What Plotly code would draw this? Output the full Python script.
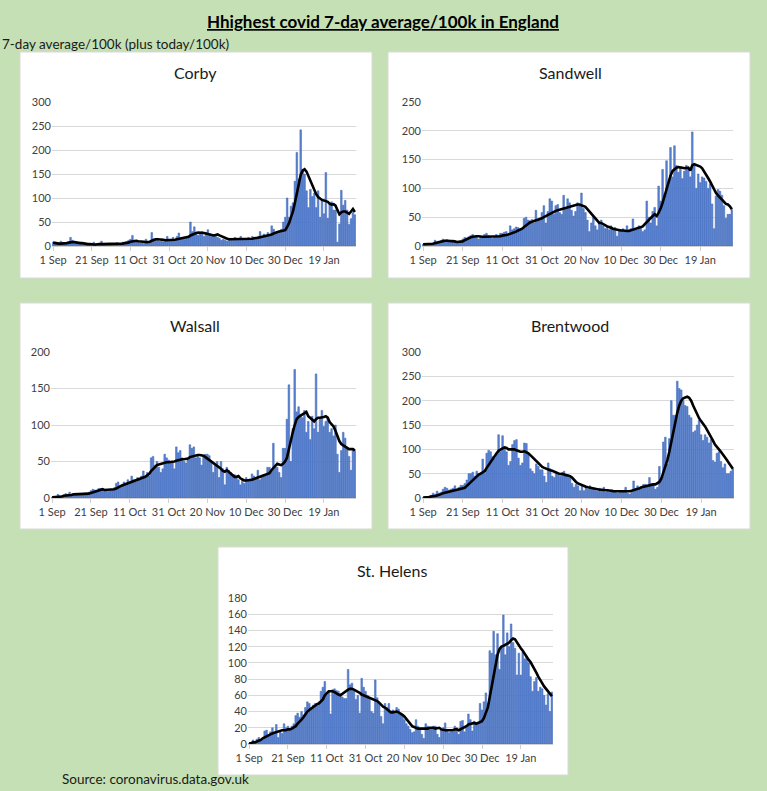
import plotly.graph_objects as go
import pandas as pd

W, H = 767, 791

# ---- data (per 100k, 1 Sep 2020 .. 4 Feb 2021) ----
dates = pd.date_range("2020-09-01", periods=157, freq="D")
tick_labels = ["1 Sep", "21 Sep", "11 Oct", "31 Oct", "20 Nov", "10 Dec", "30 Dec", "19 Jan"]
areas = ["Corby", "Sandwell", "Walsall", "Brentwood", "St. Helens"]

corby_daily = [8, 5, 4, 6, 10, 7, 4, 6, 8, 18, 12, 7, 6, 5, 8, 4, 3, 5, 2, 3,
               3, 8, 4, 2, 6, 10, 5, 3, 4, 6, 5, 3, 4, 7, 5, 4, 8, 6, 9, 12,
               14, 22, 12, 10, 8, 6, 9, 5, 14, 7, 10, 28, 15, 13, 16, 10, 12, 9, 14, 20,
               12, 14, 18, 10, 20, 27, 16, 18, 14, 18, 20, 50, 30, 40, 28, 22, 25, 30, 20, 28,
               34, 25, 20, 22, 24, 18, 16, 12, 14, 12, 10, 16, 14, 12, 18, 14, 12, 20, 14, 12,
               15, 18, 12, 20, 14, 18, 20, 30, 16, 25, 22, 28, 24, 42, 35, 28, 30, 32, 35,
               50, 60, 100, 60, 83, 90, 135, 195, 140, 242, 160, 150, 115, 80, 118, 103, 110, 80, 115, 60,
               95, 67, 153, 58, 90, 92, 75, 75, 8, 46, 116, 85, 95, 75, 45, 57, 70, 65]
corby_avg = [7, 6, 6, 5, 5, 5, 6, 6, 7, 8, 8, 8, 7, 7, 6, 6, 5, 5, 4, 4,
             3, 3, 3, 4, 4, 4, 4, 4, 5, 5, 5, 5, 5, 5, 5, 5, 5, 6, 6, 7,
             9, 10, 11, 11, 10, 10, 10, 9, 8, 8, 9, 11, 13, 14, 14, 14, 13, 13, 12, 12,
             12, 12, 13, 13, 14, 15, 16, 17, 17, 18, 19, 22, 24, 26, 27, 28, 28, 28, 27, 26,
             25, 24, 23, 22, 23, 24, 22, 20, 18, 16, 15, 14, 14, 14, 14, 14, 14, 15, 14, 14,
             14, 14, 15, 15, 16, 16, 17, 18, 19, 19, 20, 21, 22, 24, 26, 28, 29, 30, 31,
             32, 33, 40, 48, 60, 72, 90, 110, 130, 148, 157, 160, 155, 145, 135, 125, 115, 108, 102, 98,
             96, 95, 94, 92, 88, 86, 87, 84, 75, 66, 70, 72, 72, 70, 67, 72, 77, 71]

sandwell_daily = [3, 2, 4, 3, 2, 5, 10, 6, 8, 9, 12, 10, 11, 9, 8, 10, 7, 8, 6, 9,
                  12, 15, 14, 16, 18, 20, 17, 15, 12, 16, 14, 20, 22, 18, 15, 13, 16, 20, 18, 22,
                  22, 24, 25, 18, 35, 28, 30, 33, 32, 28, 30, 48, 50, 45, 44, 46, 40, 62, 45, 48,
                  58, 70, 40, 60, 82, 78, 55, 70, 72, 58, 55, 88, 65, 82, 75, 62, 52, 60, 75, 70,
                  92, 65, 58, 45, 25, 40, 50, 35, 28, 42, 45, 35, 30, 35, 28, 35, 30, 32, 17, 28,
                  26, 30, 25, 35, 28, 30, 47, 30, 28, 35, 32, 25, 28, 78, 50, 40, 60, 67, 35,
                  104, 78, 133, 90, 148, 110, 171, 120, 174, 140, 128, 135, 117, 130, 140, 135, 120, 198, 140, 100, 125,
                  110, 120, 118, 112, 100, 108, 73, 30, 87, 98, 95, 88, 70, 48, 55, 55, 63]
sandwell_avg = [3, 3, 3, 3, 3, 4, 5, 6, 7, 8, 9, 9, 9, 9, 8, 8, 8, 7, 7, 7,
                8, 10, 12, 14, 15, 16, 17, 17, 17, 16, 16, 16, 16, 16, 16, 16, 16, 16, 17, 17,
                18, 18, 19, 20, 21, 22, 24, 25, 27, 28, 30, 33, 36, 39, 41, 42, 43, 44, 45, 46,
                48, 50, 52, 54, 56, 58, 60, 61, 62, 63, 64, 65, 67, 68, 69, 70, 71, 72, 72, 72,
                71, 70, 68, 64, 60, 56, 52, 47, 43, 40, 40, 38, 35, 34, 33, 31, 30, 29, 28, 28,
                27, 27, 26, 26, 26, 27, 29, 30, 31, 31, 32, 34, 38, 42, 45, 48, 52, 55, 52,
                58, 65, 75, 88, 100, 112, 122, 130, 134, 136, 137, 137, 136, 135, 135, 136, 131, 140, 142, 141, 140,
                138, 135, 130, 124, 118, 112, 105, 98, 92, 88, 84, 80, 76, 73, 72, 69, 64]

walsall_daily = [1, 2, 1, 5, 3, 2, 4, 6, 5, 8, 5, 4, 6, 5, 4, 6, 5, 7, 6, 8,
                 10, 12, 11, 9, 13, 13, 11, 10, 12, 9, 12, 11, 14, 20, 22, 15, 18, 22, 20, 25,
                 22, 30, 25, 22, 28, 26, 30, 37, 28, 35, 30, 55, 57, 45, 50, 42, 35, 40, 60, 55,
                 52, 50, 48, 40, 70, 62, 65, 55, 50, 48, 52, 73, 68, 70, 55, 58, 55, 45, 58, 60,
                 60, 58, 50, 35, 45, 50, 28, 50, 40, 18, 42, 38, 35, 30, 32, 28, 25, 18, 25, 20,
                 28, 24, 26, 33, 30, 28, 38, 25, 30, 32, 30, 42, 42, 38, 75, 45, 42, 35, 28, 68,
                 68, 108, 155, 50, 95, 176, 118, 125, 115, 110, 120, 90, 105, 80, 112, 95, 170, 90, 108, 120,
                 98, 105, 110, 90, 95, 85, 100, 60, 35, 65, 90, 82, 70, 57, 38, 65, 65]
walsall_avg = [1, 1, 1, 2, 2, 2, 3, 3, 4, 4, 4, 5, 5, 5, 5, 5, 5, 5, 6, 6,
               7, 8, 9, 10, 11, 12, 12, 11, 11, 11, 11, 12, 12, 13, 15, 16, 17, 18, 19, 20,
               20, 21, 22, 23, 24, 25, 26, 28, 29, 31, 33, 37, 40, 43, 45, 46, 47, 48, 49, 49,
               49, 49, 49, 50, 51, 52, 53, 53, 53, 53, 54, 56, 57, 58, 59, 59, 59, 59, 58, 56,
               54, 52, 50, 48, 47, 45, 43, 40, 37, 36, 38, 36, 33, 31, 29, 29, 30, 27, 25, 24,
               24, 24, 24, 25, 26, 27, 28, 29, 30, 31, 32, 33, 34, 38, 41, 44, 47, 46, 45, 47,
               50, 55, 68, 78, 90, 100, 108, 111, 113, 115, 117, 118, 112, 110, 108, 105, 108, 110, 110, 110,
               111, 112, 110, 104, 101, 98, 92, 84, 78, 74, 72, 70, 68, 67, 67, 67, 65]

brentwood_daily = [1, 2, 1, 3, 5, 10, 8, 14, 10, 12, 18, 22, 20, 16, 18, 20, 25, 18, 22, 26,
                   26, 30, 37, 50, 50, 53, 45, 55, 50, 52, 80, 50, 92, 98, 95, 85, 82, 90, 130, 95,
                   128, 105, 95, 67, 75, 110, 118, 120, 82, 67, 72, 113, 112, 90, 60, 55, 50, 70, 65, 58,
                   58, 45, 32, 72, 60, 45, 42, 50, 48, 44, 50, 55, 48, 45, 42, 30, 22, 28, 25, 15,
                   25, 15, 22, 18, 25, 20, 18, 15, 14, 20, 16, 22, 12, 14, 12, 17, 14, 12, 10, 14,
                   12, 14, 22, 10, 8, 12, 35, 20, 25, 18, 22, 28, 28, 24, 42, 30, 28, 18, 22, 65,
                   40, 115, 125, 70, 122, 200, 170, 170, 240, 225, 222, 200, 190, 188, 170, 165, 135, 138, 150, 160,
                   130, 118, 130, 125, 113, 120, 77, 74, 92, 95, 75, 62, 70, 50, 50, 55, 60]
brentwood_avg = [1, 1, 2, 2, 3, 3, 4, 5, 6, 8, 10, 11, 12, 13, 14, 15, 16, 17, 17, 18,
                 19, 21, 25, 29, 33, 38, 42, 45, 48, 50, 52, 55, 62, 68, 75, 82, 88, 92, 97, 100,
                 102, 104, 103, 100, 100, 100, 100, 98, 96, 95, 95, 96, 94, 92, 88, 84, 80, 74, 70, 66,
                 64, 62, 60, 58, 57, 56, 54, 52, 50, 49, 50, 48, 47, 46, 45, 42, 37, 33, 30, 28,
                 26, 24, 23, 22, 21, 20, 19, 18, 18, 17, 17, 16, 16, 16, 15, 14, 14, 14, 14, 13,
                 13, 13, 13, 13, 14, 15, 16, 17, 18, 20, 22, 23, 25, 26, 27, 28, 28, 28, 30, 33,
                 40, 52, 65, 78, 95, 115, 135, 158, 175, 190, 200, 205, 207, 208, 206, 200, 190, 180, 170, 164,
                 158, 153, 147, 140, 133, 127, 118, 110, 104, 100, 95, 90, 83, 78, 72, 66, 60]

sthelens_daily = [1, 2, 5, 3, 6, 8, 4, 7, 16, 17, 10, 15, 20, 12, 24, 8, 15, 13, 25, 20,
                  22, 18, 22, 25, 35, 38, 33, 40, 36, 45, 52, 50, 45, 48, 50, 47, 52, 65, 70, 77,
                  60, 65, 37, 67, 68, 66, 65, 62, 58, 56, 56, 92, 73, 75, 65, 55, 60, 38, 81, 70,
                  65, 60, 55, 40, 38, 79, 57, 50, 34, 25, 50, 45, 50, 40, 42, 38, 45, 43, 38, 35,
                  30, 25, 22, 18, 14, 15, 30, 22, 18, 12, 7, 25, 22, 20, 20, 22, 22, 12, 8, 18,
                  20, 26, 18, 14, 15, 15, 22, 20, 12, 28, 29, 15, 20, 37, 30, 16, 28, 25, 26, 50,
                  42, 52, 63, 50, 115, 112, 139, 110, 136, 92, 120, 159, 110, 137, 120, 148, 125, 118, 85, 112,
                  85, 113, 105, 108, 100, 83, 65, 77, 82, 65, 70, 68, 60, 48, 62, 40, 64]
sthelens_avg = [1, 1, 2, 2, 3, 4, 5, 7, 8, 9, 10, 11, 13, 14, 15, 16, 16, 17, 17, 17,
                18, 18, 19, 20, 22, 25, 27, 30, 33, 37, 40, 42, 44, 46, 48, 49, 50, 52, 55, 60,
                63, 65, 65, 65, 64, 62, 61, 60, 62, 64, 66, 67, 68, 68, 67, 66, 64, 63, 61, 60,
                59, 58, 57, 57, 56, 55, 53, 51, 48, 46, 45, 43, 40, 39, 39, 40, 40, 39, 38, 36,
                34, 31, 28, 25, 22, 21, 20, 19, 19, 19, 19, 19, 19, 20, 20, 20, 19, 20, 20, 18,
                17, 17, 17, 17, 17, 17, 18, 18, 17, 18, 19, 20, 22, 24, 25, 26, 26, 25, 26, 27,
                28, 32, 38, 45, 58, 70, 85, 98, 110, 117, 120, 121, 122, 124, 125, 128, 130, 129, 125, 121,
                118, 115, 111, 107, 104, 101, 97, 93, 88, 83, 78, 75, 71, 68, 65, 62, 59]

daily = [corby_daily, sandwell_daily, walsall_daily, brentwood_daily, sthelens_daily]
avg = [corby_avg, sandwell_avg, walsall_avg, brentwood_avg, sthelens_avg]

# ---- layout in pixels ----
boxes = [(20, 52, 372, 278), (388, 52, 750, 278), (20, 303, 372, 529),
         (388, 303, 750, 529), (218, 547, 568, 775)]
plots = [(52, 102, 356, 246), (422, 102, 733, 246), (51, 352, 356, 498),
         (422, 352, 734, 498), (248, 598, 553, 744)]
title_pos = [(195, 73), (570, 73), (195, 325), (570, 325), (392, 570)]
y_max = [300, 250, 200, 300, 180]
y_step = [50, 50, 50, 50, 20]

FONT = "Lato, Carlito, Calibri, sans-serif"
BAR_FILL = "#5a82cf"
BAR_EDGE = "#3d66b8"


def fx(px):
    return px / W


def fy(py):
    return 1 - py / H


fig = go.Figure()
shapes = []
annotations = []
x_range = [dates[0] - pd.Timedelta(hours=14), dates[-1] + pd.Timedelta(hours=14)]

for i, name in enumerate(areas):
    n = "" if i == 0 else str(i + 1)
    fig.add_trace(go.Bar(x=dates, y=daily[i], marker_color=BAR_FILL,
                         marker_line=dict(color=BAR_EDGE, width=0.5),
                         xaxis="x" + n, yaxis="y" + n, showlegend=False))
    fig.add_trace(go.Scatter(x=dates, y=avg[i], mode="lines",
                             line=dict(color="black", width=2.6),
                             xaxis="x" + n, yaxis="y" + n, showlegend=False))
    x0, y0, x1, y1 = plots[i]
    fig.layout["xaxis" + n] = dict(
        domain=[fx(x0), fx(x1)], anchor="y" + n, range=x_range, automargin=False,
        tickvals=list(dates[::20]), ticktext=tick_labels, tickangle=0,
        showgrid=False, showline=True, linecolor="#D0D0D0", linewidth=1,
        ticks="outside", ticklen=4, tickcolor="#D0D0D0",
        tickfont=dict(family=FONT, size=11, color="#404040"))
    fig.layout["yaxis" + n] = dict(
        domain=[fy(y1), fy(y0)], anchor="x" + n, range=[0, y_max[i]], automargin=False,
        dtick=y_step[i], showgrid=True, gridcolor="#D9D9D9", gridwidth=1,
        zeroline=False, showline=False, ticks="",
        tickfont=dict(family=FONT, size=11, color="#404040"))
    bx0, by0, bx1, by1 = boxes[i]
    shapes.append(dict(type="rect", xref="paper", yref="paper", layer="below",
                       x0=fx(bx0), x1=fx(bx1), y0=fy(by1), y1=fy(by0),
                       fillcolor="white", line=dict(color="#D9D9D9", width=1)))
    tx, ty = title_pos[i]
    annotations.append(dict(text=name, x=fx(tx), y=fy(ty), xref="paper", yref="paper",
                            xanchor="center", yanchor="middle", showarrow=False,
                            font=dict(family=FONT, size=16, color="#1a1a1a")))

annotations.append(dict(text="<b><u>Hhighest covid 7-day average/100k in England</u></b>",
                        x=fx(383), y=fy(22), xref="paper", yref="paper",
                        xanchor="center", yanchor="middle", showarrow=False,
                        font=dict(family=FONT, size=17, color="black")))
annotations.append(dict(text="7-day average/100k (plus today/100k)",
                        x=0, y=fy(44), xref="paper", yref="paper",
                        xanchor="left", yanchor="middle", showarrow=False,
                        font=dict(family=FONT, size=13.5, color="#1a1a1a")))
annotations.append(dict(text="Source: coronavirus.data.gov.uk",
                        x=fx(60), y=fy(779), xref="paper", yref="paper",
                        xanchor="left", yanchor="middle", showarrow=False,
                        font=dict(family=FONT, size=13.5, color="#1a1a1a")))

fig.update_layout(width=W, height=H, margin=dict(l=0, r=0, t=0, b=0, pad=0),
                  paper_bgcolor="#C5E0B4", plot_bgcolor="white",
                  bargap=0.15, shapes=shapes, annotations=annotations)

# drop the default page margin so the figure sits at the window's top-left corner
fig.write_html("out.html", config={"displayModeBar": False},
               post_script="document.body.style.margin = '0';")
